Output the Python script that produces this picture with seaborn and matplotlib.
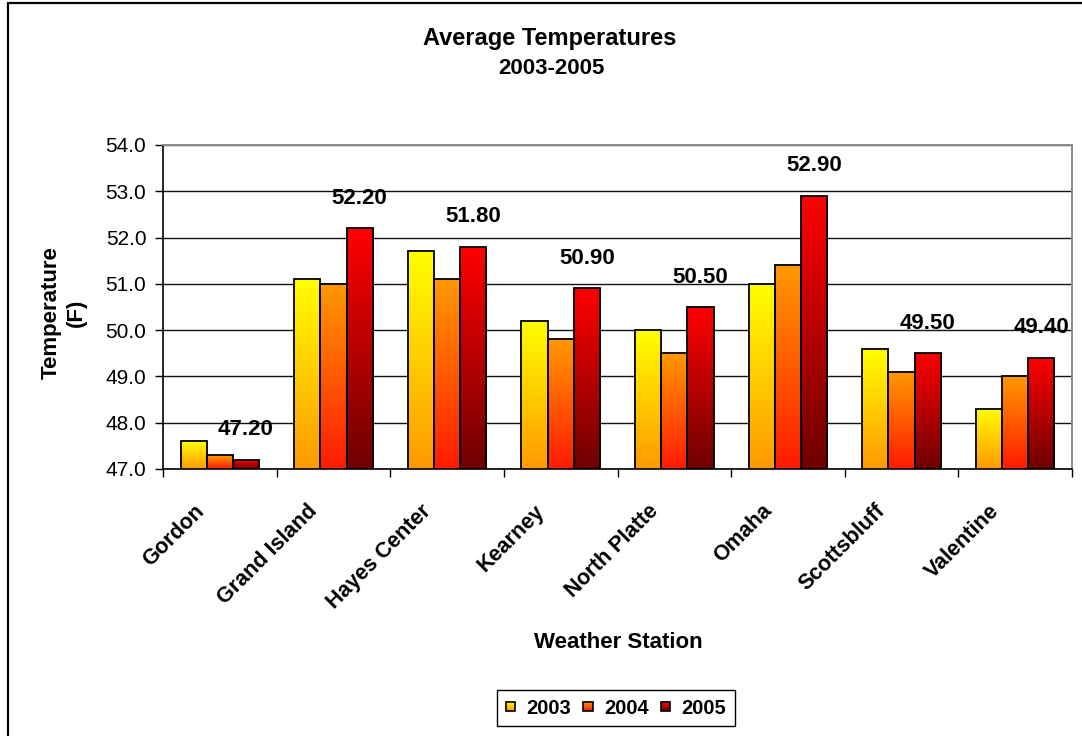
import numpy as np
import pandas as pd
import matplotlib
matplotlib.use("Agg")
import matplotlib.pyplot as plt
import matplotlib.transforms as mtransforms
import seaborn as sns
from matplotlib.patches import Rectangle
from matplotlib.colors import LinearSegmentedColormap
from matplotlib.legend_handler import HandlerBase

# ---- data ----
stations = ["Gordon", "Grand Island", "Hayes Center", "Kearney",
            "North Platte", "Omaha", "Scottsbluff", "Valentine"]
years = ["2003", "2004", "2005"]
temps_2003 = [47.6, 51.1, 51.7, 50.2, 50.0, 51.0, 49.6, 48.3]
temps_2004 = [47.3, 51.0, 51.1, 49.8, 49.5, 51.4, 49.1, 49.0]
temps_2005 = [47.2, 52.2, 51.8, 50.9, 50.5, 52.9, 49.5, 49.4]
y_ticks = [47.0, 48.0, 49.0, 50.0, 51.0, 52.0, 53.0, 54.0]

# top / bottom colour of the vertical gradient for each year
gradients = {
    "2003": ("#FFFF00", "#FF9900"),
    "2004": ("#FF9900", "#FF1A00"),
    "2005": ("#FF0000", "#6E0000"),
}

df = pd.DataFrame({
    "Station": stations * 3,
    "Year": np.repeat(years, len(stations)),
    "Temp": temps_2003 + temps_2004 + temps_2005,
})

sns.set_theme(style="white")
plt.rcParams["font.family"] = ["Liberation Sans", "DejaVu Sans"]
plt.rcParams.update({"text.color": "black", "axes.labelcolor": "black",
                     "xtick.color": "black", "ytick.color": "black"})

fig = plt.figure(figsize=(10.82, 7.36), dpi=100)
ax = fig.add_axes([163 / 1082, 1 - 469 / 736, (1072 - 163) / 1082, (469 - 145) / 736])

sns.barplot(data=df, x="Station", y="Temp", hue="Year", order=stations,
            hue_order=years, width=0.69, gap=0, saturation=1,
            palette=[gradients[y][0] for y in years],
            edgecolor="black", linewidth=1.3, legend=False, ax=ax)

ymin, ymax = y_ticks[0], y_ticks[-1]

# replace flat fills with a vertical gradient clipped to each bar
grad = np.linspace(0, 1, 256).reshape(-1, 1)
for container, year in zip(ax.containers, years):
    top_c, bot_c = gradients[year]
    cmap = LinearSegmentedColormap.from_list(f"g{year}", [bot_c, top_c])
    for bar in container:
        x0 = bar.get_x()
        x1 = x0 + bar.get_width()
        h = bar.get_y() + bar.get_height()
        im = ax.imshow(grad, extent=[x0, x1, ymin, h], origin="lower",
                       aspect="auto", cmap=cmap, zorder=1.5,
                       interpolation="bilinear")
        im.set_clip_path(bar)
        bar.set_facecolor("none")
        bar.set_zorder(2)

# value labels on the 2005 series
ax.bar_label(ax.containers[2], fmt="%.2f", padding=14, fontsize=16,
             fontweight="bold", color="black")

ax.set_xlim(-0.5, len(stations) - 0.5)
ax.set_ylim(ymin, ymax)
ax.set_yticks(y_ticks)
ax.set_yticklabels([f"{v:.1f}" for v in y_ticks], fontsize=15, color="black")
ax.yaxis.grid(True, color="#111111", linewidth=1.0)
ax.set_axisbelow(True)

# category boundary ticks on the x axis
ax.set_xticks(np.arange(-0.5, len(stations), 1.0), minor=True)
ax.tick_params(axis="x", which="minor", length=6, width=1, color="black",
               direction="out", bottom=True)
ax.tick_params(axis="x", which="major", length=0, pad=28)
ax.tick_params(axis="y", which="major", length=6, width=1, color="black",
               direction="out", left=True, pad=6)
ax.set_xticks(range(len(stations)))
ax.set_xticklabels(stations, rotation=45, ha="right", va="center",
                   rotation_mode="anchor", fontsize=15.5, fontweight="bold",
                   color="black")
shift = mtransforms.ScaledTranslation(-19 / 100, 0, fig.dpi_scale_trans)
for lbl in ax.get_xticklabels():
    lbl.set_transform(lbl.get_transform() + shift)

for side in ("left", "bottom"):
    ax.spines[side].set_color("black")
    ax.spines[side].set_linewidth(1.2)
for side in ("top", "right"):
    ax.spines[side].set_color("#8a8a8a")
    ax.spines[side].set_linewidth(1.4)

ax.set_xlabel("")
ax.set_ylabel("")

# titles and axis captions
fig.text(550 / 1082, 1 - 38 / 736, "Average Temperatures", ha="center",
         va="center", fontsize=17, fontweight="bold")
fig.text(551 / 1082, 1 - 68 / 736, "2003-2005", ha="center",
         va="center", fontsize=16, fontweight="bold")
fig.text(618 / 1082, 1 - 642 / 736, "Weather Station", ha="center",
         va="center", fontsize=16, fontweight="bold")
fig.text(64 / 1082, 1 - 313 / 736, "Temperature\n(F)", ha="center",
         va="center", rotation=90, fontsize=16, fontweight="bold",
         linespacing=1.25, multialignment="center")


class GradientSquareHandler(HandlerBase):
    """Legend key drawn as a small square filled with a vertical gradient."""

    def create_artists(self, legend, orig_handle, xdescent, ydescent,
                       width, height, fontsize, trans):
        top_c, bot_c = orig_handle.gradient
        cmap = LinearSegmentedColormap.from_list("k", [bot_c, top_c])
        side = min(width, height)
        x0 = -xdescent + (width - side) / 2
        y0 = -ydescent + (height - side) / 2
        n = 14
        arts = []
        for i in range(n):
            arts.append(Rectangle((x0, y0 + side * i / n), side, side / n * 1.05,
                                  facecolor=cmap((i + 0.5) / n),
                                  edgecolor="none", transform=trans))
        arts.append(Rectangle((x0, y0), side, side, facecolor="none",
                              edgecolor="black", linewidth=1.2, transform=trans))
        return arts


handles = []
for year in years:
    r = Rectangle((0, 0), 1, 1, label=year)
    r.gradient = gradients[year]
    handles.append(r)

leg = fig.legend(handles=handles, labels=years, loc="center",
                 bbox_to_anchor=(616 / 1082, 1 - 708 / 736), ncol=3,
                 handler_map={Rectangle: GradientSquareHandler()},
                 prop={"size": 14.5, "weight": "bold"},
                 handlelength=0.48, handleheight=0.48, handletextpad=0.55,
                 columnspacing=0.6, borderpad=0.42, frameon=True,
                 fancybox=False, edgecolor="black", framealpha=1)
leg.get_frame().set_linewidth(1.0)

# outer chart border
fig.patches.append(Rectangle((8 / 1082, -0.05), 1.2, 1.05 - 3 / 736,
                             transform=fig.transFigure, fill=False,
                             edgecolor="black", linewidth=1.6))

fig.savefig("out.png", dpi=100)
